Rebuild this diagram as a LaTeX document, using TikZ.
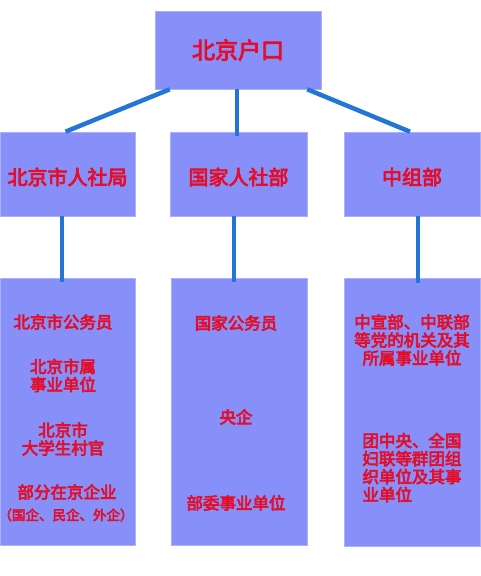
\documentclass[tikz,border=0pt]{standalone}
\usepackage{fontspec}
\newfontfamily\cjk[FakeBold=4]{Noto Sans CJK SC}
\definecolor{boxfill}{RGB}{134,144,248}
\definecolor{boxedge}{RGB}{170,176,250}
\definecolor{txtred}{RGB}{228,14,42}
\definecolor{linkblue}{RGB}{36,118,214}
\begin{document}
\begin{tikzpicture}[x=1pt,y=-1pt,
  box/.style={fill=boxfill,draw=boxedge,line width=0.6pt,inner sep=0pt,anchor=center},
  ttl/.style={text=txtred,font=\cjk\fontsize{#1}{#1}\selectfont,inner sep=0pt,align=center},
  itm/.style={text=txtred,font=\cjk\fontsize{16.5}{18}\selectfont,inner sep=0pt,align=center},
  link/.style={draw=linkblue,line width=4.5pt}]
\fill[white] (0,0) rectangle (480,576);
\useasboundingbox (0,0) rectangle (480,576);
% boxes
\node[box,minimum width=166pt,minimum height=78pt] (top) at (238,50) {};
\node[ttl=23] (topt) at (238,50) {北京户口};
\node[box,minimum width=135pt,minimum height=84pt] (b1) at (67.5,174) {};
\node[box,minimum width=137pt,minimum height=84pt] (b2) at (238.5,174) {};
\node[box,minimum width=136pt,minimum height=84pt] (b3) at (412,174) {};
\node[ttl=20] (b1t) at (67.5,177) {北京市人社局};
\node[ttl=20] (b2t) at (238.5,177) {国家人社部};
\node[ttl=20] (b3t) at (412,177) {中组部};
\node[box,minimum width=135pt,minimum height=267pt] (c1) at (67.5,411.5) {};
\node[box,minimum width=136pt,minimum height=267pt] (c2) at (239,411.5) {};
\node[box,minimum width=136pt,minimum height=268pt] (c3) at (412,412) {};
% connectors
\draw[link] ([xshift=15pt]top.south west) -- ([xshift=-2pt]b1.north);
\draw[link] ([xshift=-1pt]top.south) -- ([xshift=-1.5pt,yshift=-4pt]b2.north);
\draw[link] ([xshift=-14pt]top.south east) -- ([xshift=-2pt]b3.north);
\draw[link] ([xshift=-5.5pt]b1.south) -- ([xshift=-5.5pt,yshift=-4pt]c1.north);
\draw[link] ([xshift=-4.5pt]b2.south) -- ([xshift=-5pt,yshift=-4pt]c2.north);
\draw[link] ([xshift=6pt]b3.south) -- ([xshift=6pt,yshift=-5pt]c3.north);
% left column
\node[itm] (l1) at (63,322) {北京市公务员};
\node[itm] (l2) at (63,375.5) {北京市属\\事业单位};
\node[itm] (l3) at (63,439) {北京市\\大学生村官};
\node[itm] (l4) at (67,492) {部分在京企业};
\node[text=txtred,font=\cjk\fontsize{13.5}{14}\selectfont,inner sep=0pt] (l5) at (66,515) {（国企、民企、外企）};
% middle column
\node[itm] (m1) at (236,323) {国家公务员};
\node[itm] (m2) at (236,417) {央企};
\node[itm] (m3) at (236,503) {部委事业单位};
% right column
\node[itm] (r1) at (412,340) {中宣部、中联部\\等党的机关及其\\所属事业单位};
\node[itm,align=left] (r2) at (412,467.5) {团中央、全国\\妇联等群团组\\织单位及其事\\业单位};
\end{tikzpicture}
\end{document}
